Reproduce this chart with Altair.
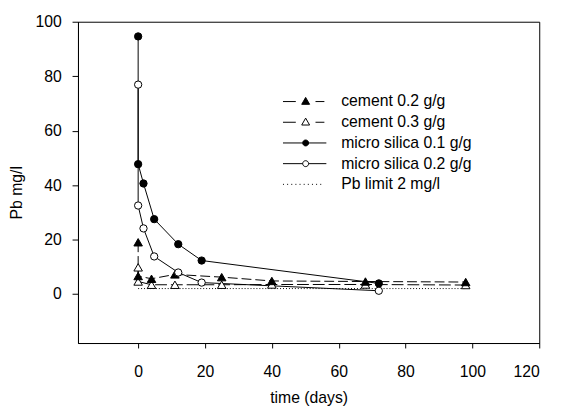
import altair as alt
import pandas as pd

# ---- data ----
series = ["cement 0.2 g/g", "cement 0.3 g/g", "micro silica 0.1 g/g",
          "micro silica 0.2 g/g", "Pb limit 2 mg/l"]

c02_x = [0, 0, 4, 11, 25, 40, 68, 98]
c02_y = [19.0, 6.6, 5.6, 7.2, 6.2, 4.8, 4.6, 4.4]

c03_x = [0, 0, 4, 11, 25, 40, 68, 98]
c03_y = [9.8, 4.6, 3.4, 3.4, 3.4, 3.5, 3.5, 3.3]

ms01_x = [0, 0, 1.6, 4.8, 12, 19, 72]
ms01_y = [94.6, 47.7, 40.6, 27.5, 18.3, 12.3, 3.9]

ms02_x = [0, 0, 1.6, 4.8, 12, 19, 72]
ms02_y = [76.9, 32.5, 24.1, 13.8, 7.9, 4.2, 1.2]

limit_x = [0, 98]
limit_y = [2, 2]

x_ticks = [0, 20, 40, 60, 80, 100, 120]
y_ticks = [0, 20, 40, 60, 80, 100]

FONT = "Liberation Sans"


def frame(xs, ys, name):
    return pd.DataFrame({"x": xs, "y": ys, "series": name, "idx": range(len(xs))})


d_c02 = frame(c02_x, c02_y, series[0])
d_c03 = frame(c03_x, c03_y, series[1])
d_ms01 = frame(ms01_x, ms01_y, series[2])
d_ms02 = frame(ms02_x, ms02_y, series[3])
d_lim = frame(limit_x, limit_y, series[4])

xs = alt.Scale(domain=[-18, 120], nice=False, zero=False)
ys = alt.Scale(domain=[-18, 100], nice=False, zero=False)

X = alt.X("x:Q", scale=xs, axis=alt.Axis(
    title="time (days)", values=x_ticks, grid=False, tickSize=5, labelPadding=16,
    titleY=60, titleBaseline="alphabetic"))
Y = alt.Y("y:Q", scale=ys, axis=alt.Axis(
    title="Pb mg/l", values=y_ticks, grid=False, tickSize=6, labelPadding=11,
    titleX=-57, titleY=173, titleBaseline="alphabetic"))


def line(d, dash):
    kw = {}
    if dash:
        kw["strokeDash"] = dash
    return alt.Chart(d).mark_line(color="black", strokeWidth=1, **kw).encode(
        x=X, y=Y, order="idx:Q")


def pts(d, shape, fill, size):
    return alt.Chart(d).mark_point(shape=shape, fill=fill, stroke="black",
                                   strokeWidth=1, opacity=1, filled=False,
                                   size=size).encode(x=X, y=Y)


# legend symbols: line + marker drawn as custom shape paths (designed in px,
# divided by the symbol's path scale sqrt(size)/2)
SYM_SIZE = 100
K = (SYM_SIZE ** 0.5) / 2.0


def p(v):
    return f"{v / K:.3f}"


tri = f"M0,{p(-4.2)}L{p(4)},{p(2.8)}L{p(-4)},{p(2.8)}Z"
circ = (f"M{p(3)},0A{p(3)},{p(3)},0,1,1,{p(-3)},0"
        f"A{p(3)},{p(3)},0,1,1,{p(3)},0Z")
dash_seg = f"M{p(-23)},0H{p(-10)}M{p(10)},0H{p(19)}"
solid_seg = f"M{p(-23)},0H{p(-3)}M{p(3)},0H{p(21)}"
dots = "".join(f"M{p(-23 + 4.2 * i)},0H{p(-22 + 4.2 * i)}" for i in range(10))
paths = [dash_seg + tri, dash_seg + tri, solid_seg + circ, solid_seg + circ, dots]
fills = ["black", "white", "black", "white", "black"]
strokes = ["black"] * 5

leg = alt.Legend(title=None, orient="none", legendX=223, legendY=73,
                 labelFont=FONT, labelFontSize=16, labelColor="black",
                 symbolStrokeColor="black", symbolStrokeWidth=1, symbolSize=SYM_SIZE,
                 labelOffset=28, rowPadding=5, padding=0, labelLimit=300)

legend_layer = alt.Chart(d_c02).mark_point(
    stroke="black", strokeWidth=1, opacity=1, size=SYM_SIZE).encode(
    x=X, y=Y,
    shape=alt.Shape("series:N", scale=alt.Scale(domain=series, range=paths), legend=leg),
    fill=alt.Fill("series:N", scale=alt.Scale(domain=series, range=fills), legend=leg),
    stroke=alt.Stroke("series:N", scale=alt.Scale(domain=series, range=strokes), legend=leg),
).transform_filter("false")

chart = alt.layer(
    line(d_lim, [1, 2]),
    line(d_c03, [12, 4]),
    line(d_c02, [10, 4]),
    line(d_ms02, None),
    line(d_ms01, None),
    pts(d_c03, "triangle-up", "white", 75),
    pts(d_c02, "triangle-up", "black", 75),
    pts(d_ms02, "circle", "white", 55),
    pts(d_ms01, "circle", "black", 55),
    legend_layer,
).properties(
    width=468, height=326,
    padding={"left": 71, "top": 11, "right": 17, "bottom": 64},
    autosize=alt.AutoSizeParams(type="none"),
    background="white",
).configure_view(stroke="black", strokeWidth=1).configure_axis(
    labelFont=FONT, labelFontSize=16, labelColor="black",
    titleFont=FONT, titleFontSize=16, titleFontWeight="normal", titleColor="black",
    domainColor="black", tickColor="black", domainWidth=1, tickWidth=1,
)

chart.save("out.html", embed_options={"renderer": "svg", "actions": False})
